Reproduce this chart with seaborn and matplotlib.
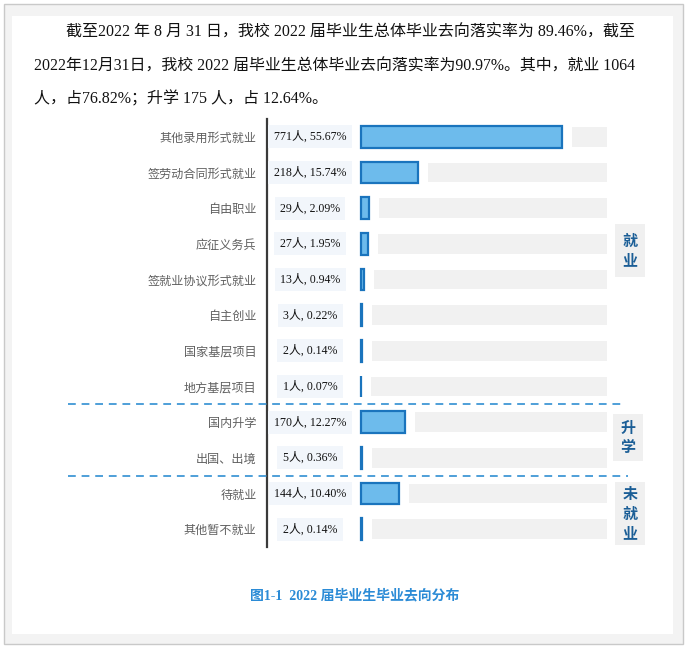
import matplotlib
matplotlib.use("Agg")
import matplotlib.pyplot as plt
import seaborn as sns
import pandas as pd
from matplotlib.patches import Rectangle

# ---------------- data ----------------
categories = ['其他录用形式就业', '签劳动合同形式就业', '自由职业', '应征义务兵',
              '签就业协议形式就业', '自主创业', '国家基层项目', '地方基层项目',
              '国内升学', '出国、出境', '待就业', '其他暂不就业']
counts = [771, 218, 29, 27, 13, 3, 2, 1, 170, 5, 144, 2]
percents = [55.67, 15.74, 2.09, 1.95, 0.94, 0.22, 0.14, 0.07, 12.27, 0.36, 10.40, 0.14]
groups = ['就业', '升学', '未就业']
paragraph = [
    '截至2022 年 8 月 31 日，我校 2022 届毕业生总体毕业去向落实率为 89.46%，截至',
    '2022年12月31日，我校 2022 届毕业生总体毕业去向落实率为90.97%。其中，就业 1064',
    '人，占76.82%；升学 175 人，占 12.64%。',
]
caption = '图1-1  2022 届毕业生毕业去向分布'

# ---------------- style ----------------
sns.set_theme(style='white')
plt.rcParams['font.family'] = ['Noto Sans CJK SC', 'DejaVu Sans']
SERIF = ['Liberation Serif', 'Noto Sans CJK SC']

W, H = 687, 649
fig = plt.figure(figsize=(W / 100, H / 100), dpi=100)
fig.patch.set_facecolor('white')


def fx(x):
    return x / W


def fy(y):
    return 1 - y / H


def prect(x0, y0, x1, y1, **kw):
    fig.add_artist(Rectangle((fx(x0), fy(y1)), fx(x1) - fx(x0), fy(y0) - fy(y1),
                             transform=fig.transFigure, **kw))


# page frame
prect(4, 4, 683, 644, facecolor='#f3f3f3', edgecolor='#c9c9c9', linewidth=1.0, zorder=-10)
prect(12, 16, 673, 634, facecolor='white', edgecolor='none', zorder=-9)

# paragraph
fig.text(fx(66), fy(33), paragraph[0], fontsize=11.55, family=SERIF, color='#111111', va='center', ha='left')
fig.text(fx(34), fy(67), paragraph[1], fontsize=11.48, family=SERIF, color='#111111', va='center', ha='left')
fig.text(fx(34), fy(99), paragraph[2], fontsize=11.5, family=SERIF, color='#111111', va='center', ha='left')

# ---------------- chart ----------------
ax_l, ax_r, ax_t, ax_b = 267, 607, 119, 547
ax = fig.add_axes([fx(ax_l), fy(ax_b), fx(ax_r) - fx(ax_l), fy(ax_t) - fy(ax_b)])
ax.set_facecolor('none')

scale = (562 - 361) / 771.0        # px per unit
xmin = -(361 - ax_l) / scale
xmax = (ax_r - 361) / scale
gap = 10 / scale

df = pd.DataFrame({'cat': categories, 'count': counts, 'pct': percents})

# grey track bars
ypos = list(range(len(categories)))
ax.barh(ypos, [xmax - (c + gap) for c in counts], left=[c + gap for c in counts],
        height=0.56, color='#f1f1f1', edgecolor='none', zorder=0)

sns.barplot(data=df, x='count', y='cat', orient='h', color='#6dbbec',
            edgecolor='#1a74bd', linewidth=1.6, width=0.6, saturation=1,
            ax=ax, zorder=2)

ax.set_xlim(xmin, xmax)
ax.set_ylim(len(categories) - 0.5, -0.5)
ax.set_xlabel('')
ax.set_ylabel('')
ax.set_xticks([])
ax.set_yticks(ypos)
ax.set_yticklabels(categories, fontsize=8.7, color='#606060')
ax.tick_params(axis='y', length=0, pad=7.5)
for s in ['top', 'right', 'bottom']:
    ax.spines[s].set_visible(False)
ax.spines['left'].set_color('#3a3a3a')
ax.spines['left'].set_linewidth(1.6)

# value labels
lab_x = (310 - 361) / scale
for i, (c, p) in enumerate(zip(counts, percents)):
    ax.text(lab_x, i, f'{c}人, {p:.2f}%', ha='center', va='center', fontsize=8.6,
            family=SERIF, color='#111111',
            bbox=dict(boxstyle='square,pad=0.45', facecolor='#f2f6fb', edgecolor='none'))

# dashed separators
for yv, xr in [(7.5, 625), (9.5, 628)]:
    ax.plot([(68 - ax_l) / (ax_r - ax_l), (xr - ax_l) / (ax_r - ax_l)], [yv, yv],
            transform=ax.get_yaxis_transform(), clip_on=False,
            color='#4e9fd8', linestyle=(0, (4, 3)), linewidth=1.4, zorder=3)

# group labels
boxes = [(615, 224, 645, 277), (613, 414, 643, 461), (615, 482, 645, 545)]
for g, (x0, y0, x1, y1) in zip(groups, boxes):
    prect(x0, y0, x1, y1, facecolor='#f0f0f0', edgecolor='none', zorder=1)
    fig.text(fx((x0 + x1) / 2), fy((y0 + y1) / 2), '\n'.join(g), ha='center', va='center',
             fontsize=10.8, fontweight='bold', color='#1b5e96', linespacing=1.3)

# caption
fig.text(fx(355), fy(596), caption, ha='center', va='center', fontsize=10,
         fontweight='bold', family=SERIF, color='#2b8bd6')

fig.savefig('out.png', dpi=100, facecolor='white')
